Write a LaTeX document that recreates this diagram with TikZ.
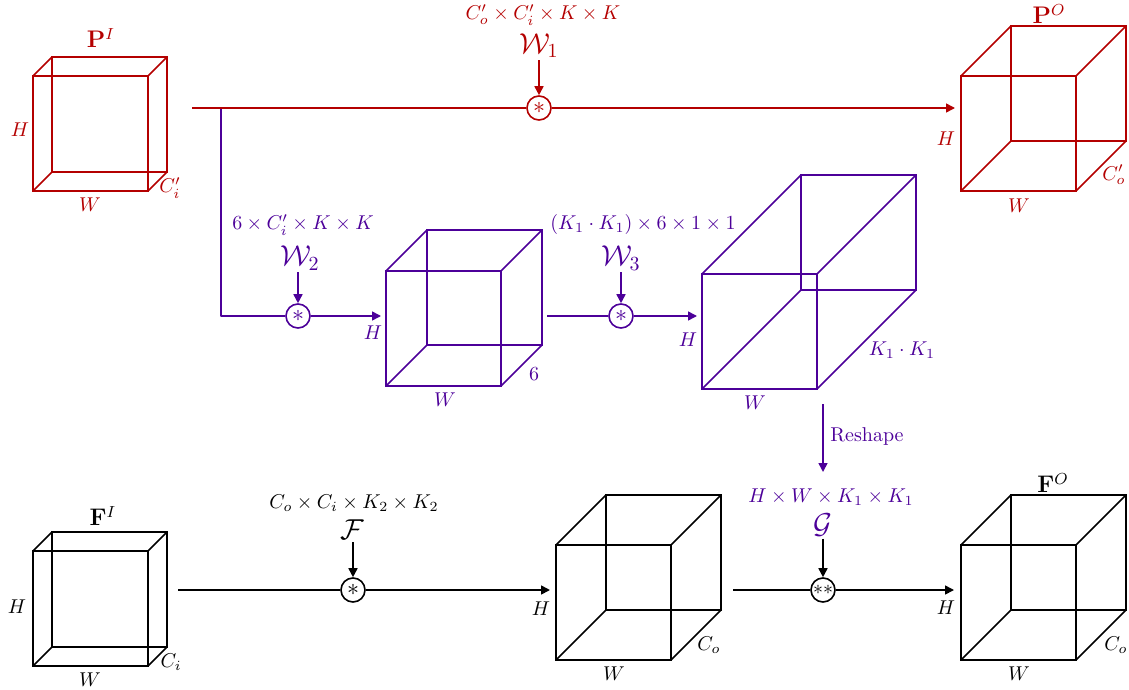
\documentclass[tikz,border=0pt]{standalone}
\usetikzlibrary{arrows.meta,calc}
\definecolor{cred}{RGB}{180,0,0}
\definecolor{cpur}{RGB}{76,0,153}
\tikzset{
  edge/.style={line width=0.8pt, line join=round},
  arr/.style={edge,-{Triangle[length=4.5pt,width=4.5pt]}},
  face/.style={draw, line width=0.8pt, minimum width=57.5pt, minimum height=57.5pt, inner sep=0pt, outer sep=0pt, anchor=north west},
  opnode/.style={draw, circle, line width=0.8pt, minimum size=12pt, inner sep=0pt, font=\large},
  lbl/.style={inner sep=1pt},
  blbl/.style={inner sep=1pt, font=\large},
  wlbl/.style={inner sep=1pt, font=\Large},
}
\newcommand\mycube[5]{%
  \node[face, draw=#2] (#1f) at (#3,#4) {};
  \node[face, draw=#2] (#1b) at ($(#1f.north west)+(#5,-#5)$) {};
  \foreach \a in {north west, north east, south west, south east}
    \draw[edge,#2] (#1f.\a) -- (#1b.\a);
}
\begin{document}
\begin{tikzpicture}[x=0.5pt,y=-0.5pt]
\useasboundingbox (0,0) rectangle (1129,690);

% ---------- cubes ----------
\mycube{PI}{cred}{33}{76}{19}
\mycube{PO}{cred}{961}{76}{50}
\mycube{CA}{cpur}{386}{271}{41}
\mycube{CB}{cpur}{702}{274}{99}
\mycube{FI}{black}{33}{551}{19}
\mycube{FM}{black}{556}{545}{50}
\mycube{FO}{black}{961}{545}{50}

% ---------- cube labels ----------
\node[blbl,text=cred] (PIt) at (101,38) {$\mathbf{P}^I$};
\node[lbl,text=cred] (PIH) at (20,130) {$H$};
\node[lbl,text=cred] (PIW) at (90,205) {$W$};
\node[lbl,text=cred] (PIC) at (170,188) {$C'_i$};

\node[blbl,text=cred] (POt) at (1049,14) {$\mathbf{P}^O$};
\node[lbl,text=cred] (POH) at (946,139) {$H$};
\node[lbl,text=cred] (POW) at (1019,206) {$W$};
\node[lbl,text=cred] (POC) at (1114,175) {$C'_o$};

\node[lbl,text=cpur] (CAH) at (373,333) {$H$};
\node[lbl,text=cpur] (CAW) at (445,400) {$W$};
\node[lbl,text=cpur] (CA6) at (534,374) {$6$};

\node[lbl,text=cpur] (CBH) at (688,340) {$H$};
\node[lbl,text=cpur] (CBW) at (755,403) {$W$};
\node[lbl,text=cpur] (CBK) at (902,350) {$K_1\cdot K_1$};

\node[blbl] (FIt) at (103,516) {$\mathbf{F}^I$};
\node[lbl] (FIH) at (17,607) {$H$};
\node[lbl] (FIW) at (90,680) {$W$};
\node[lbl] (FIC) at (171,662) {$C_i$};

\node[lbl] (FMH) at (541,609) {$H$};
\node[lbl] (FMW) at (614,674) {$W$};
\node[lbl] (FMC) at (709,645) {$C_o$};

\node[blbl] (FOt) at (1053,483) {$\mathbf{F}^O$};
\node[lbl] (FOH) at (946,608) {$H$};
\node[lbl] (FOW) at (1019,674) {$W$};
\node[lbl] (FOC) at (1116,645) {$C_o$};

% ---------- operators ----------
\node[opnode,draw=cred,text=cred] (op1) at (539,108) {$*$};
\node[opnode,draw=cpur,text=cpur] (op2) at (298,316) {$*$};
\node[opnode,draw=cpur,text=cpur] (op3) at (621,316) {$*$};
\node[opnode] (op4) at (353,590) {$*$};
\node[opnode,font=\normalsize] (op5) at (823,590) {$**$};

% ---------- weights ----------
\node[lbl,text=cred] (W1d) at (543,15) {$C'_o\times C'_i\times K\times K$};
\node[wlbl,text=cred] (W1) at (539,46) {$\mathcal{W}_1$};
\node[lbl,text=cpur] (W2d) at (303,225) {$6\times C'_i\times K\times K$};
\node[wlbl,text=cpur] (W2) at (300,258) {$\mathcal{W}_2$};
\node[lbl,text=cpur] (W3d) at (643,224) {$(K_1\cdot K_1)\times 6\times 1\times 1$};
\node[wlbl,text=cpur] (W3) at (621,258) {$\mathcal{W}_3$};
\node[lbl] (Fd) at (354,503) {$C_o\times C_i\times K_2\times K_2$};
\node[wlbl] (Fw) at (352,530) {$\mathcal{F}$};
\node[lbl,text=cpur] (Gd) at (831,497) {$H\times W\times K_1\times K_1$};
\node[wlbl,text=cpur] (Gw) at (823,525) {$\mathcal{G}$};

\draw[arr,cred] (W1.south -| op1) -- (op1);
\draw[arr,cpur] (W2.south -| op2) -- (op2);
\draw[arr,cpur] (W3.south -| op3) -- (op3);
\draw[arr] (Fw.south -| op4) -- (op4);
\draw[arr] (Gw.south -| op5) -- (op5);

% ---------- connector end points ----------
\coordinate (rA) at (192,108);
\coordinate (rB) at (955,108);
\coordinate (br) at (221,108);
\coordinate (pA) at (381,316);
\coordinate (pB) at (547,316);
\coordinate (pC) at (697,316);
\coordinate (sA) at (823,404);
\coordinate (sB) at (823,472);
\coordinate (bA) at (178,590);
\coordinate (bB) at (550,590);
\coordinate (bC) at (733,590);
\coordinate (bD) at (954,590);

% ---------- connectors ----------
\draw[edge,cpur] (br) |- (op2);
\draw[arr,cpur] (op2) -- (pA);
\draw[edge,cpur] (pB) -- (op3);
\draw[arr,cpur] (op3) -- (pC);
\draw[arr,cpur] (sA) -- (sB);
\node[lbl,text=cpur,anchor=west] (rsh) at (828,436) {Reshape};

\draw[edge,cred] (rA) -- (op1);
\draw[arr,cred] (op1) -- (rB);

\draw[edge] (bA) -- (op4);
\draw[arr] (op4) -- (bB);
\draw[edge] (bC) -- (op5);
\draw[arr] (op5) -- (bD);
\end{tikzpicture}
\end{document}
